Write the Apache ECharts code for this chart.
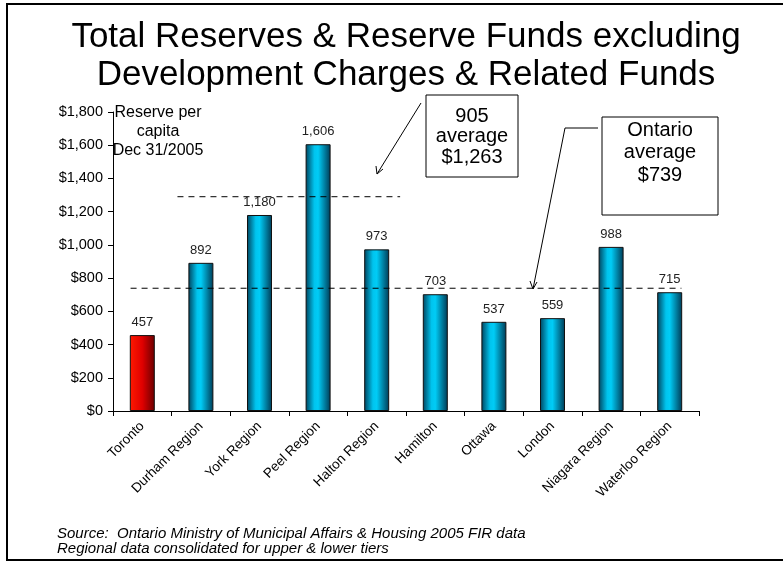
<!DOCTYPE html>
<html>
<head>
<meta charset="utf-8">
<script src="https://cdn.jsdelivr.net/npm/echarts@6/dist/echarts.min.js"></script>
<style>
  html, body { margin: 0; padding: 0; background: #fff; }
  #chart { width: 784px; height: 563px; }
</style>
</head>
<body>
<div id="chart"></div>
<script>
var categories = ['Toronto', 'Durham Region', 'York Region', 'Peel Region', 'Halton Region',
                  'Hamilton', 'Ottawa', 'London', 'Niagara Region', 'Waterloo Region'];
var reservePerCapita = [457, 892, 1180, 1606, 973, 703, 537, 559, 988, 715];
var yTicks = [0, 200, 400, 600, 800, 1000, 1200, 1400, 1600, 1800];
// dashed average lines, in category units along the hidden x scale
var gtaAverageLine = [[1.1, 1290], [4.9, 1290]];
var ontarioAverageLine = [[0.3, 739], [9.7, 739]];

var FONT = 'Liberation Sans, Arial, sans-serif';

function money(v) {
    return '$' + String(v).replace(/\B(?=(\d{3})+(?!\d))/g, ',');
}

var blueBar = new echarts.graphic.LinearGradient(0, 0, 1, 0, [
    { offset: 0, color: '#00435e' },
    { offset: 0.35, color: '#00c4ee' },
    { offset: 0.5, color: '#00ccf6' },
    { offset: 1, color: '#003a55' }
]);
var redBar = new echarts.graphic.LinearGradient(0, 0, 1, 0, [
    { offset: 0, color: '#ff1a00' },
    { offset: 0.5, color: '#e00000' },
    { offset: 1, color: '#6a0000' }
]);

function drawChart() {
    var barData = reservePerCapita.map(function (v, i) {
        return {
            value: v,
            itemStyle: { color: i === 0 ? redBar : blueBar }
        };
    });

    var option = {
        animation: false,
        grid: { left: 113, right: 85, top: 112, bottom: 152 },
        xAxis: [{
            type: 'category',
            data: categories,
            axisLine: { lineStyle: { color: '#000', width: 1 } },
            axisTick: { show: true, length: 5, lineStyle: { color: '#000' } },
            axisLabel: {
                rotate: 45, interval: 0, color: '#000',
                fontFamily: FONT, fontSize: 13.5, margin: 13
            }
        }, {
            type: 'value', min: 0, max: 10, show: false, position: 'top'
        }],
        yAxis: {
            type: 'value',
            min: 0, max: 1800, interval: 200,
            splitLine: { show: false },
            axisLine: { show: true, lineStyle: { color: '#000', width: 1 } },
            axisTick: { show: true, length: 5, lineStyle: { color: '#000' } },
            axisLabel: {
                color: '#000', fontFamily: FONT, fontSize: 14.5, margin: 10,
                formatter: function (v) { return yTicks.indexOf(v) >= 0 ? money(v) : ''; }
            }
        },
        series: [{
            type: 'bar',
            data: barData,
            barWidth: 25,
            itemStyle: { borderColor: '#111', borderWidth: 1 },
            label: {
                show: true, position: 'top', distance: 6,
                color: '#222', fontFamily: FONT, fontSize: 13,
                formatter: function (p) { return p.value.toLocaleString('en-US'); }
            }
        }, {
            type: 'line',
            xAxisIndex: 1,
            data: gtaAverageLine,
            symbol: 'none',
            lineStyle: { color: '#000', width: 1, type: [6, 5] }
        }, {
            type: 'line',
            xAxisIndex: 1,
            data: ontarioAverageLine,
            symbol: 'none',
            lineStyle: { color: '#000', width: 1, type: [6, 5] }
        }],
        graphic: [
            // frame
            { type: 'polyline', shape: { points: [[783, 4], [7, 4], [7, 560], [783, 560]] },
              style: { stroke: '#000', lineWidth: 2, fill: null } },
            // title
            { type: 'text', x: 406, y: 18,
              style: { text: 'Total Reserves & Reserve Funds excluding\nDevelopment Charges & Related Funds',
                       font: '35px ' + FONT, fill: '#000', align: 'center', lineHeight: 38 } },
            // subtitle inside plot
            { type: 'text', x: 158, y: 103,
              style: { text: 'Reserve per\ncapita\nDec 31/2005', font: '16px ' + FONT,
                       fill: '#000', align: 'center', lineHeight: 19 } },
            // 905 average box
            { type: 'rect', shape: { x: 426, y: 95, width: 92, height: 82 },
              style: { fill: '#fff', stroke: '#000', lineWidth: 1 } },
            { type: 'text', x: 472, y: 106,
              style: { text: '905\naverage\n$1,263', font: '20px ' + FONT, fill: '#000',
                       align: 'center', lineHeight: 20.5 } },
            { type: 'line', shape: { x1: 421, y1: 103, x2: 377, y2: 174 },
              style: { stroke: '#000', lineWidth: 1 } },
            { type: 'polyline', shape: { points: [[376, 166], [377, 174], [383, 169]] },
              style: { stroke: '#000', lineWidth: 1, fill: null } },
            // Ontario average box
            { type: 'rect', shape: { x: 602, y: 117, width: 116, height: 98 },
              style: { fill: '#fff', stroke: '#000', lineWidth: 1 } },
            { type: 'text', x: 660, y: 119,
              style: { text: 'Ontario\naverage\n$739', font: '20px ' + FONT, fill: '#000',
                       align: 'center', lineHeight: 22.5 } },
            { type: 'polyline', shape: { points: [[598, 128], [565, 128], [533, 289]] },
              style: { stroke: '#000', lineWidth: 1, fill: null } },
            { type: 'polyline', shape: { points: [[530, 281], [533, 289], [537, 282]] },
              style: { stroke: '#000', lineWidth: 1, fill: null } },
            // source
            { type: 'text', x: 57, y: 526,
              style: { text: 'Source:  Ontario Ministry of Municipal Affairs & Housing 2005 FIR data\nRegional data consolidated for upper & lower tiers',
                       font: 'italic 15px ' + FONT, fill: '#000', lineHeight: 15 } }
        ]
    };

    var myChart = echarts.init(document.getElementById('chart'));
    myChart.setOption(option, true);
}

drawChart();
</script>
</body>
</html>
